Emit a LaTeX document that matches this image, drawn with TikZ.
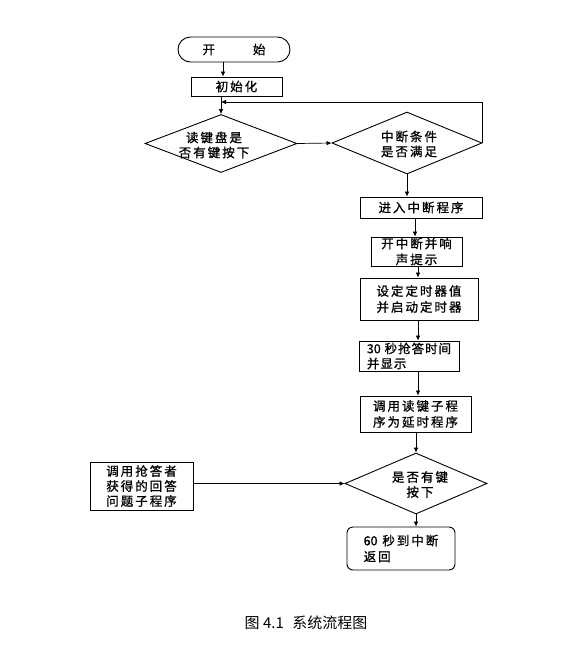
\documentclass[tikz,border=0pt]{standalone}
\usepackage{fontspec}
\newfontfamily\cjk[LetterSpace=16, FakeBold=1]{Noto Sans CJK SC}
\newfontfamily\cjkn[LetterSpace=8, FakeBold=1]{Noto Sans CJK SC}
\newfontfamily\plain[FakeBold=1]{Noto Sans CJK SC}
\newfontfamily\capfont{Noto Sans CJK SC}
\newcommand\dg[1]{{\plain #1}}
\usetikzlibrary{shapes.geometric,arrows.meta}
\begin{document}
\begin{tikzpicture}[x=1pt,y=-1pt,
  box/.style={draw, line width=0.9pt, inner sep=0pt, align=center,
    font=\cjk\fontsize{12.5}{16}\selectfont},
  lbox/.style={box, align=left},
  dia/.style={draw, diamond, line width=0.9pt, inner sep=0pt},
  txt/.style={inner sep=0pt, align=center, font=\cjk\fontsize{12.5}{15}\selectfont},
  flow/.style={-{Latex[length=5pt,width=4.5pt]}, line width=0.7pt}]
\useasboundingbox (0,0) rectangle (567,670);
\fill[white] (0,0) rectangle (567,670);

% nodes
\node[box, rounded corners=12.5pt, minimum width=112pt, minimum height=25pt] (start) at (234,49.5) {开\hspace{38pt}始};
\node[box, minimum width=91pt, minimum height=19pt] (init) at (236.5,86.5) {初始化};
\node[dia, minimum width=152pt, minimum height=58pt] (d1) at (221,143.5) {};
\node[txt] (d1t) at (214,145) {读键盘是\\否有键按下};
\node[dia, minimum width=150pt, minimum height=62pt] (d2) at (407,143) {};
\node[txt] (d2t) at (409,144) {中断条件\\是否满足};
\node[box, minimum width=122pt, minimum height=21pt] (enter) at (421,207.5) {进入中断程序};
\node[box, minimum width=91pt, minimum height=29pt] (beep) at (416.5,251.5) {开中断并响\\声提示};
\node[box, minimum width=118pt, minimum height=42pt] (set) at (419,299) {设定定时器值\\并启动定时器};
\node[lbox, minimum width=100pt, minimum height=30pt, font=\cjkn\fontsize{12.5}{15}\selectfont] (s30) at (409,356) {\dg{30} 秒抢答时间\\并显示};
\node[box, minimum width=111pt, minimum height=36pt] (call) at (415.5,414) {调用读键子程\\序为延时程序};
\node[dia, minimum width=142pt, minimum height=61pt] (d3) at (416,483.5) {};
\node[txt] (d3t) at (420,484.5) {是否有键\\按下};
\node[box, minimum width=103pt, minimum height=48pt, font=\cjk\fontsize{12.5}{15}\selectfont] (ans) at (141.5,486) {调用抢答者\\获得的回答\\问题子程序};
\node[lbox, rounded corners=6pt, minimum width=108pt, minimum height=43pt] (back) at (401,548.5) {\dg{60} 秒到中断\\返回};
\node[inner sep=0pt, font=\capfont\fontsize{15}{17}\selectfont] (cap) at (306,623) {图 4.1\,\, 系统流程图};

\coordinate (loopend) at (221,102);

% connectors
\draw[flow] (start.south -| 223,0) -- (init.north -| 223,0);
\draw[flow] (init.south -| d1.north) -- (d1.north);
\draw[flow] (d2.east) |- (loopend);
\draw[flow] (d1.east) -- (d2.west);
\draw[flow] (d2.south) -- (enter.north -| d2.south);
\draw[flow] (enter.south -| 415,0) -- (beep.north -| 415,0);
\draw[flow] (beep.south -| 418,0) -- (set.north -| 418,0);
\draw[flow] (set.south -| 418,0) -- (s30.north -| 418,0);
\draw[flow] (s30.south -| 418,0) -- (call.north -| 418,0);
\draw[flow] (call.south -| d3.north) -- (d3.north);
\draw[flow] (ans.east |- d3.west) -- (d3.west);
\draw[flow] (d3.south) -- (back.north -| d3.south);
\end{tikzpicture}
\end{document}
